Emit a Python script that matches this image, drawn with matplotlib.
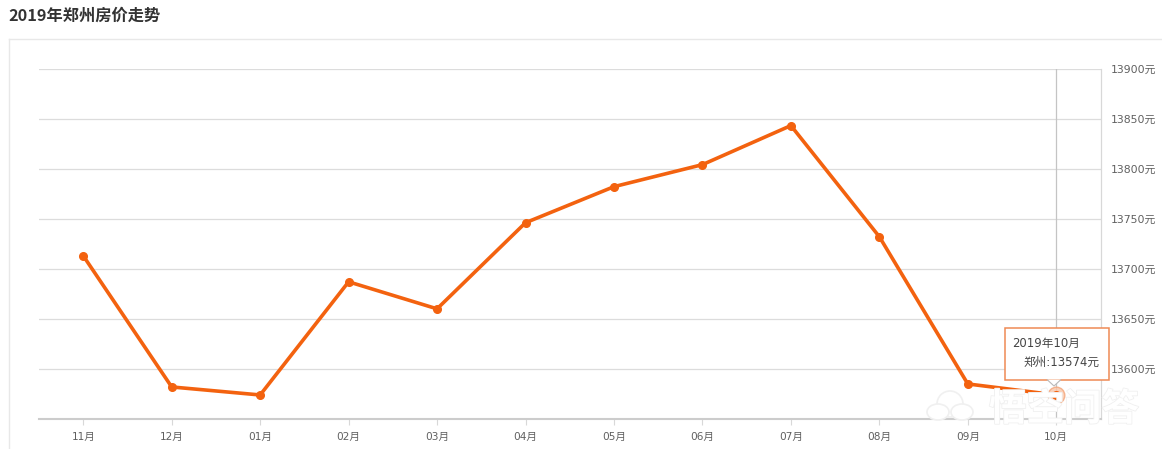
import matplotlib
matplotlib.use('Agg')
import matplotlib.pyplot as plt
import matplotlib.patheffects as pe
from matplotlib.lines import Line2D
from matplotlib.patches import Ellipse, Polygon, Rectangle

plt.rcParams['font.family'] = ['DejaVu Sans', 'Noto Sans CJK SC']

months = ['11月', '12月', '01月', '02月', '03月', '04月', '05月', '06月', '07月', '08月', '09月', '10月']
prices = [13713, 13582, 13574, 13687, 13660, 13746, 13782, 13804, 13843, 13732, 13585, 13574]
y_ticks = [13550, 13600, 13650, 13700, 13750, 13800, 13850, 13900]
y_labels = ['', '13600元', '13650元', '13700元', '13750元', '13800元', '13850元', '13900元']

W, H = 1162, 449
ORANGE = '#f3620f'


def fx(x):
    return x / W


def fy(y):
    return 1 - y / H


fig = plt.figure(figsize=(W / 100, H / 100), dpi=100, facecolor='white')
ax = fig.add_axes([fx(39), fy(419), fx(1100.5 - 39), fy(68.5) - fy(419)])

# Outer panel border
fig.add_artist(Line2D([fx(8.5), fx(8.5)], [fy(449), fy(38.5)], color='#e8e8e8', lw=1))
fig.add_artist(Line2D([fx(8.5), fx(1162)], [fy(38.5), fy(38.5)], color='#e8e8e8', lw=1))

fig.text(fx(8), fy(15.5), '2019年郑州房价走势', fontsize=11.7, fontweight='bold',
         family=['Noto Sans CJK SC'], color='#333333', va='center', ha='left')

x = list(range(len(months)))
ax.set_xlim(-0.5, len(months) - 0.5)
ax.set_ylim(13550, 13900)
ax.grid(axis='y', color='#dcdcdc', lw=0.9)
ax.set_axisbelow(True)
ax.axvline(x[-1], color='#c4c4c4', lw=0.9, zorder=1)
ax.plot(x, prices, color=ORANGE, lw=2.6, marker='o', markersize=5.5, zorder=3, clip_on=False)
ax.plot(x[-1], prices[-1], 'o', ms=12, mfc='#f9c6a8', mec='#f4a57a', mew=1, alpha=0.8, zorder=2)

for side in ['top', 'left']:
    ax.spines[side].set_visible(False)
ax.spines['right'].set_color('#d8d8d8')
ax.spines['right'].set_linewidth(0.9)
ax.spines['bottom'].set_color('#cccccc')
ax.spines['bottom'].set_linewidth(1.5)

ax.set_xticks(x)
ax.set_xticklabels(months)
ax.yaxis.tick_right()
ax.set_yticks(y_ticks)
ax.set_yticklabels(y_labels)
ax.tick_params(axis='x', length=4, color='#d8d8d8', labelsize=7.6, labelcolor='#606060', pad=5)
ax.tick_params(axis='y', length=0, labelsize=7.8, labelcolor='#606060', pad=7.5)

# Tooltip
fig.add_artist(Rectangle((fx(1004.5), fy(379.5)), fx(104), fy(327.5) - fy(379.5), facecolor='white',
                         edgecolor='#ef8a55', lw=1.1, zorder=5))
fig.add_artist(Polygon([(fx(1047), fy(379.5)), (fx(1054), fy(386)), (fx(1061), fy(379.5))],
                       closed=False, facecolor='white', edgecolor='#b9b9b9', lw=0.8, zorder=5))
fig.text(fx(1012), fy(343), '2019年10月', fontsize=8.4, color='#444444', va='center', zorder=6)
fig.text(fx(1099), fy(362), '郑州:13574元', fontsize=8.4, color='#444444', va='center', ha='right', zorder=6)

# Watermark
halo = [pe.withStroke(linewidth=1.2, foreground='#f0f0f0')]
for cx, cy, ew, eh in [(950, 404, 26, 26), (938, 412, 22, 16), (962, 412, 22, 16)]:
    fig.add_artist(Ellipse((fx(cx), fy(cy)), fx(ew), fy(0) - fy(eh), facecolor='white',
                           edgecolor='#f0f0f0', lw=1.2, zorder=7))
fig.text(fx(1064), fy(409), '悟空问答', fontsize=27, color='white', fontweight='bold',
         family=['Noto Sans CJK SC'], va='center', ha='center', zorder=7, path_effects=halo)

fig.savefig('out.png', dpi=100)
